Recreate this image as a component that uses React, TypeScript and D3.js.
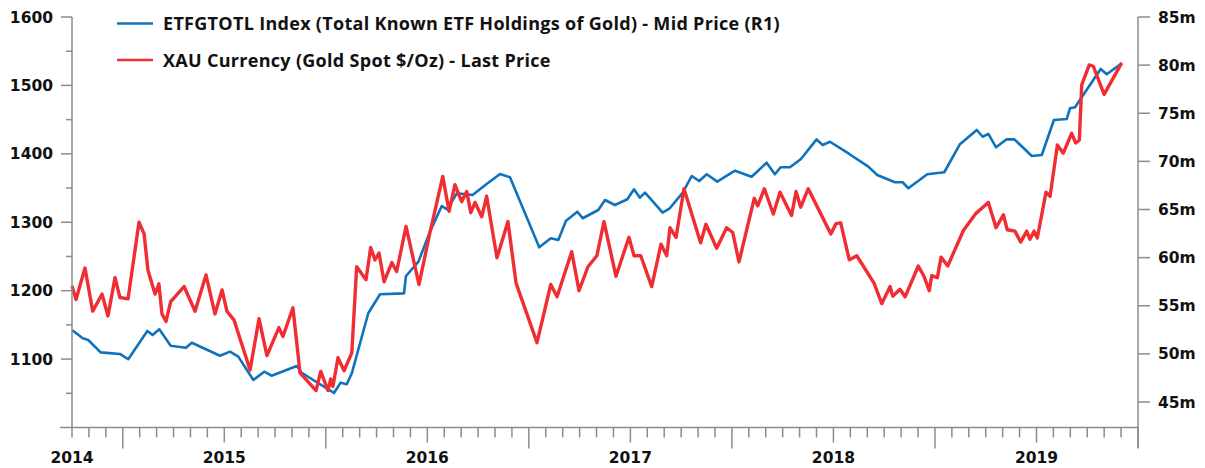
import React from "react";
import * as d3 from "d3";

// ---- Data (x = decimal year as positioned on the chart) ----
const goldYears = [
  2014.250, 2014.270, 2014.314, 2014.352, 2014.398, 2014.427, 2014.462, 2014.486, 2014.526, 2014.580,
  2014.605, 2014.624, 2014.659, 2014.678, 2014.693, 2014.713, 2014.736, 2014.802, 2014.856, 2014.910,
  2014.954, 2014.989, 2015.013, 2015.048, 2015.127, 2015.171, 2015.210, 2015.269, 2015.289, 2015.338,
  2015.373, 2015.452, 2015.475, 2015.511, 2015.524, 2015.535, 2015.560, 2015.590, 2015.628, 2015.652,
  2015.698, 2015.721, 2015.742, 2015.762, 2015.787, 2015.825, 2015.849, 2015.895, 2015.959, 2016.013,
  2016.076, 2016.107, 2016.136, 2016.169, 2016.194, 2016.214, 2016.235, 2016.268, 2016.292, 2016.343,
  2016.397, 2016.437, 2016.540, 2016.608, 2016.639, 2016.711, 2016.747, 2016.791, 2016.835, 2016.870,
  2016.929, 2016.993, 2017.018, 2017.051, 2017.105, 2017.151, 2017.179, 2017.195, 2017.225, 2017.264,
  2017.346, 2017.372, 2017.425, 2017.474, 2017.504, 2017.535, 2017.610, 2017.627, 2017.660, 2017.704,
  2017.737, 2017.794, 2017.816, 2017.839, 2017.876, 2017.987, 2018.013, 2018.036, 2018.078, 2018.115,
  2018.200, 2018.238, 2018.279, 2018.292, 2018.328, 2018.353, 2018.418, 2018.446, 2018.472, 2018.484,
  2018.512, 2018.530, 2018.563, 2018.640, 2018.702, 2018.763, 2018.801, 2018.837, 2018.856, 2018.894,
  2018.922, 2018.952, 2018.968, 2018.988, 2019.004, 2019.047, 2019.067, 2019.103, 2019.132, 2019.173,
  2019.193, 2019.211, 2019.223, 2019.260, 2019.280, 2019.333, 2019.420,
];
const goldPrice = [
  1207, 1187, 1233, 1170, 1195, 1163, 1219, 1190, 1188, 1300,
  1283, 1230, 1195, 1210, 1166, 1155, 1184, 1206, 1170, 1223,
  1166, 1201, 1170, 1157, 1084, 1159, 1105, 1146, 1133, 1175,
  1080, 1054, 1082, 1054, 1071, 1060, 1102, 1083, 1109, 1235,
  1216, 1263, 1245, 1255, 1213, 1241, 1228, 1294, 1209, 1285,
  1367, 1316, 1355, 1330, 1345, 1314, 1329, 1308, 1338, 1248,
  1301, 1211, 1124, 1209, 1191, 1257, 1200, 1235, 1251, 1301,
  1221, 1278, 1251, 1251, 1206, 1268, 1251, 1292, 1278, 1349,
  1270, 1297, 1262, 1292, 1285, 1242, 1335, 1324, 1349, 1312,
  1344, 1310, 1345, 1322, 1349, 1283, 1298, 1299, 1245, 1251,
  1211, 1181, 1206, 1192, 1202, 1191, 1236, 1221, 1200, 1222,
  1219, 1249, 1236, 1288, 1313, 1329, 1292, 1311, 1289, 1287,
  1271, 1287, 1275, 1287, 1277, 1344, 1338, 1413, 1401, 1430,
  1416, 1420, 1501, 1530, 1528, 1487, 1533,
];

const etfYears = [
  2014.250, 2014.303, 2014.330, 2014.391, 2014.486, 2014.527, 2014.621, 2014.647, 2014.680, 2014.736,
  2014.811, 2014.840, 2014.979, 2015.028, 2015.069, 2015.143, 2015.197, 2015.233, 2015.357, 2015.381,
  2015.540, 2015.573, 2015.603, 2015.628, 2015.709, 2015.767, 2015.885, 2015.895, 2015.956, 2016.013,
  2016.071, 2016.098, 2016.145, 2016.223, 2016.292, 2016.358, 2016.407, 2016.551, 2016.608, 2016.645,
  2016.683, 2016.739, 2016.765, 2016.842, 2016.875, 2016.924, 2016.985, 2017.018, 2017.047, 2017.072,
  2017.159, 2017.192, 2017.258, 2017.302, 2017.339, 2017.376, 2017.428, 2017.515, 2017.597, 2017.671,
  2017.712, 2017.740, 2017.786, 2017.840, 2017.917, 2017.947, 2017.983, 2018.078, 2018.172, 2018.216,
  2018.303, 2018.341, 2018.369, 2018.462, 2018.546, 2018.623, 2018.706, 2018.735, 2018.763, 2018.801,
  2018.853, 2018.891, 2018.977, 2019.026, 2019.086, 2019.149, 2019.165, 2019.190, 2019.316, 2019.346,
  2019.420,
];
const etfHoldings = [
  52.48, 51.62, 51.44, 50.16, 49.99, 49.44, 52.38, 51.96, 52.55, 50.85,
  50.64, 51.16, 49.81, 50.23, 49.71, 47.29, 48.15, 47.73, 48.74, 48.04,
  45.94, 47.01, 46.84, 47.98, 54.22, 56.19, 56.29, 58.09, 59.58, 62.69,
  65.36, 65.02, 66.68, 66.51, 67.65, 68.69, 68.35, 61.07, 62.01, 61.83,
  63.84, 64.77, 64.09, 64.95, 65.99, 65.47, 66.06, 67.10, 66.23, 66.75,
  64.67, 65.08, 66.75, 68.48, 67.96, 68.66, 67.89, 69.03, 68.41, 69.86,
  68.66, 69.39, 69.39, 70.25, 72.29, 71.70, 72.04, 70.77, 69.45, 68.59,
  67.83, 67.83, 67.20, 68.66, 68.87, 71.78, 73.26, 72.56, 72.85, 71.46,
  72.29, 72.29, 70.56, 70.66, 74.30, 74.40, 75.51, 75.62, 79.60, 79.05,
  80.19,
];

const leftTicks = [1100, 1200, 1300, 1400, 1500, 1600];
const leftMinorTicks = [1050, 1150, 1250, 1350, 1450, 1550];
const rightTicks = [45, 50, 55, 60, 65, 70, 75, 80, 85];
const yearLabels = [2014, 2015, 2016, 2017, 2018, 2019];

const legendItems = [
  { label: "ETFGTOTL Index (Total Known ETF Holdings of Gold) - Mid Price (R1)", color: "#0F72BD" },
  { label: "XAU Currency (Gold Spot $/Oz) - Last Price", color: "#EF2D32" },
];

const W = 1205;
const H = 468;
const X0 = 72;
const X1 = 1138;
const YB = 427.5;
const YT = 17;

export default function App() {
  const x = d3.scaleLinear().domain([2014.25, 2019.5]).range([X0, X1]);
  const yL = d3.scaleLinear().domain([1000, 1600]).range([YB, YT]);
  const yR = d3.scaleLinear().domain([42.35, 85]).range([YB, YT]);

  const goldLine = d3
    .line<number>()
    .x((_, i) => x(goldYears[i]))
    .y((d) => yL(d));
  const etfLine = d3
    .line<number>()
    .x((_, i) => x(etfYears[i]))
    .y((d) => yR(d));

  const monthTicks = d3.range(0, 64).map((k) => 2014.25 + k / 12);

  const axisColor = "#8c8c8c";
  const axisFont = "'DejaVu Sans', Verdana, sans-serif";

  return (
    <div style={{ position: "absolute", left: 0, top: 0 }}>
      <svg width={W} height={H} style={{ display: "block", background: "#fff" }}>
        {/* Lines */}
        <path d={etfLine(etfHoldings) || ""} fill="none" stroke={legendItems[0].color} strokeWidth={2.6} strokeLinejoin="round" />
        <path d={goldLine(goldPrice) || ""} fill="none" stroke={legendItems[1].color} strokeWidth={3.4} strokeLinejoin="round" />

        {/* Left axis */}
        <line x1={X0} x2={X0} y1={YT} y2={YB} stroke={axisColor} strokeWidth={1.5} />
        {leftTicks.map((t) => (
          <g key={"l" + t}>
            <line x1={X0 - 11} x2={X0} y1={yL(t)} y2={yL(t)} stroke={axisColor} strokeWidth={1.5} />
            <text x={53} y={yL(t)} dy="0.36em" textAnchor="end" fontFamily={axisFont} fontWeight="bold" fontSize={15.5} fill="#111">
              {t}
            </text>
          </g>
        ))}
        {leftMinorTicks.map((t) => (
          <line key={"lm" + t} x1={X0 - 6} x2={X0} y1={yL(t)} y2={yL(t)} stroke={axisColor} strokeWidth={1.5} />
        ))}

        {/* Right axis */}
        <line x1={X1} x2={X1} y1={YT} y2={448} stroke={axisColor} strokeWidth={1.5} />
        {rightTicks.map((t) => (
          <g key={"r" + t}>
            <line x1={X1} x2={X1 + 12} y1={yR(t)} y2={yR(t)} stroke={axisColor} strokeWidth={1.5} />
            <text x={1158} y={yR(t)} dy="0.36em" textAnchor="start" fontFamily={axisFont} fontWeight="bold" fontSize={15.5} fill="#111">
              {t}m
            </text>
          </g>
        ))}

        {/* Bottom axis */}
        <line x1={60} x2={X1} y1={YB} y2={YB} stroke={axisColor} strokeWidth={1.5} />
        {monthTicks.map((t, i) => {
          const month = Math.round((t - Math.floor(t + 1e-6)) * 12) % 12;
          const len = month === 0 ? 15 : month === 6 ? 21 : 10;
          return (
            <line key={"m" + i} x1={x(t)} x2={x(t)} y1={YB} y2={YB + len} stroke={axisColor} strokeWidth={1.5} />
          );
        })}
        {yearLabels.map((yr) => (
          <text
            key={"y" + yr}
            x={x(Math.max(yr, 2014.25))}
            y={463}
            textAnchor="middle"
            fontFamily={axisFont}
            fontWeight="bold"
            fontSize={15.5}
            fill="#111"
          >
            {yr}
          </text>
        ))}

        {/* Legend */}
        {legendItems.map((item, i) => (
          <g key={"lg" + i}>
            <line x1={117} x2={153} y1={23.5 + i * 36.5} y2={23.5 + i * 36.5} stroke={item.color} strokeWidth={2.5} />
            <text x={163} y={30 + i * 37} fontFamily="'Open Sans', Lato, sans-serif" fontWeight="bold" fontSize={18} letterSpacing={0.3} fill="#111">
              {item.label}
            </text>
          </g>
        ))}
      </svg>
    </div>
  );
}
